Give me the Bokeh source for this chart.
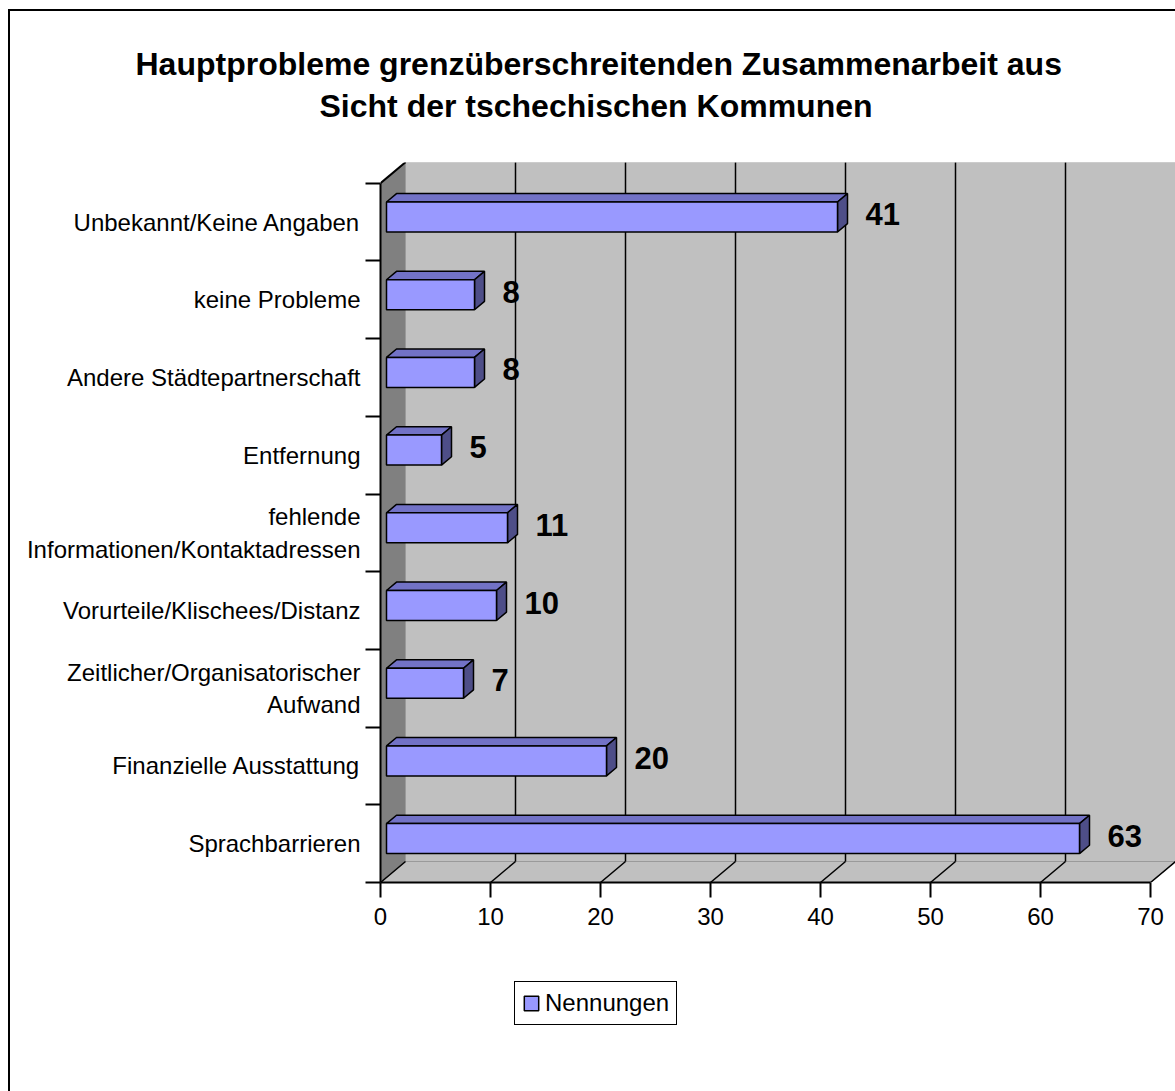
from bokeh.plotting import figure
from bokeh.layouts import column
from bokeh.models import Range1d, FixedTicker, Title, Legend, LegendItem
from bokeh.embed import file_html
from bokeh.resources import INLINE
from bokeh.core.properties import value

# ---------------- data ----------------
categories = [
    "Sprachbarrieren",
    "Finanzielle Ausstattung",
    "Zeitlicher/Organisatorischer\nAufwand",
    "Vorurteile/Klischees/Distanz",
    "fehlende\nInformationen/Kontaktadressen",
    "Entfernung",
    "Andere Städtepartnerschaft",
    "keine Probleme",
    "Unbekannt/Keine Angaben",
]
counts = [63, 20, 7, 10, 11, 5, 8, 8, 41]
x_ticks = [0, 10, 20, 30, 40, 50, 60, 70]
series_name = "Nennungen"
title_lines = [
    "Hauptprobleme grenzüberschreitenden Zusammenarbeit aus",
    "Sicht der tschechischen Kommunen",
]

# ---------------- geometry (pixels per data unit, 3D depth) ----------------
PX_X = 11.0          # pixels per count
PX_Y = 77.7          # pixels per category
DX = 25.0 / PX_X     # depth offset in x (data)
DY = 21.0 / PX_Y     # depth offset in y (data)
T1, T2 = 0.24, 0.64  # bar depth position (front / back)
HH = 15.0 / PX_Y     # half bar height
FONT = "Liberation Sans"
FRONT_COLOR = "#9999FF"
n = len(categories)
xmax = x_ticks[-1]

p = figure(width=1165, height=949, output_backend="svg", toolbar_location=None,
           x_range=Range1d(0, 795 / PX_X), y_range=Range1d(0, 720 / PX_Y),
           min_border_left=370, min_border_right=0, min_border_top=151,
           min_border_bottom=78)
p.title_location = None
p.outline_line_color = None
p.grid.visible = False
p.background_fill_color = "white"
p.border_fill_color = "white"

# ---------------- walls ----------------
p.quad(left=[DX], right=[xmax + DX], bottom=[DY], top=[n + DY],
       fill_color="#C0C0C0", line_color="#9A9A9A", line_width=1)
p.patch(x=[0, xmax, xmax + DX, DX], y=[0, 0, DY, DY],
        fill_color="#C0C0C0", line_color="#9A9A9A", line_width=1)
p.patch(x=[0, DX, DX, 0], y=[0, DY, n + DY, n],
        fill_color="#808080", line_color="#9A9A9A", line_width=1)
p.segment(x0=[0], y0=[n], x1=[DX], y1=[n + DY], line_color="black", line_width=2)

grid_x = [t + DX for t in x_ticks[1:-1]]
p.segment(x0=grid_x, y0=[DY] * len(grid_x), x1=grid_x, y1=[n + DY] * len(grid_x),
          line_color="black", line_width=1.5)
p.segment(x0=x_ticks, y0=[0] * len(x_ticks), x1=[t + DX for t in x_ticks],
          y1=[DY] * len(x_ticks), line_color="black", line_width=1.5)

# ---------------- bars ----------------
fx0 = [T1 * DX] * n
fx1 = [v + T1 * DX for v in counts]
cy = [i + 0.5 + T1 * DY for i in range(n)]
ftop = [c + HH for c in cy]
fbot = [c - HH for c in cy]
ddx = (T2 - T1) * DX
ddy = (T2 - T1) * DY

top_xs = [[a, b, b + ddx, a + ddx] for a, b in zip(fx0, fx1)]
top_ys = [[t, t, t + ddy, t + ddy] for t in ftop]
side_xs = [[b, b, b + ddx, b + ddx] for b in fx1]
side_ys = [[bo, t, t + ddy, bo + ddy] for bo, t in zip(fbot, ftop)]

p.patches(xs=top_xs, ys=top_ys, fill_color="#7272C6", line_color="black", line_width=1.5)
p.patches(xs=side_xs, ys=side_ys, fill_color="#4E4E88", line_color="black", line_width=1.5)
p.quad(left=fx0, right=fx1, bottom=fbot, top=ftop,
       fill_color=FRONT_COLOR, line_color="black", line_width=1.5)

p.text(x=[b + ddx for b in fx1], y=[c + 3 / PX_Y for c in cy],
       text=[str(v) for v in counts], x_offset=18,
       text_font=value(FONT), text_font_style="bold", text_font_size="31px",
       text_baseline="middle", text_align="left", text_color="black")

# ---------------- axes ----------------
xa = p.xaxis[0]
xa.ticker = FixedTicker(ticks=x_ticks)
xa.bounds = (x_ticks[0], x_ticks[-1])
xa.axis_line_color = "black"
xa.axis_line_width = 2
xa.major_tick_in = 0
xa.major_tick_out = 15
xa.major_tick_line_color = "black"
xa.major_tick_line_width = 2
xa.minor_tick_line_color = None
xa.major_label_text_font = FONT
xa.major_label_text_font_size = "24px"
xa.major_label_text_color = "black"
xa.major_label_standoff = 10

ya = p.yaxis[0]
ya.ticker = FixedTicker(ticks=[i + 0.5 for i in range(n)], minor_ticks=list(range(n + 1)))
ya.major_label_overrides = {i + 0.5: categories[i] for i in range(n)}
ya.bounds = (0, n)
ya.axis_line_color = "black"
ya.axis_line_width = 2
ya.major_tick_in = 0
ya.major_tick_out = 0
ya.minor_tick_in = 0
ya.minor_tick_out = 15
ya.minor_tick_line_color = "black"
ya.minor_tick_line_width = 2
ya.major_label_text_font = FONT
ya.major_label_text_font_size = "24px"
ya.major_label_text_color = "black"
ya.major_label_standoff = 5

# ---------------- titles (stacked outward from the frame) ----------------
p.add_layout(Title(text=" ", text_font_size="22px", standoff=10), "above")
p.add_layout(Title(text=title_lines[1], align="left", offset=-61, standoff=4,
                   text_font=FONT, text_font_size="32px", text_font_style="bold",
                   text_color="black"), "above")
p.add_layout(Title(text=title_lines[0], align="left", offset=-245, standoff=4,
                   text_font=FONT, text_font_size="32px", text_font_style="bold",
                   text_color="black"), "above")

# ---------------- legend strip below the chart ----------------
pl = figure(width=1165, height=131, output_backend="svg", toolbar_location=None,
            x_range=Range1d(0, 1), y_range=Range1d(0, 1),
            x_axis_location=None, y_axis_location=None, min_border=0)
pl.title_location = None
pl.outline_line_color = None
pl.grid.visible = False
pl.background_fill_color = "white"
pl.border_fill_color = "white"
nan = float("nan")
swatch = pl.quad(left=[nan], right=[nan], bottom=[nan], top=[nan],
                 fill_color=FRONT_COLOR, line_color="black", line_width=1.5)
legend = Legend(items=[LegendItem(label=series_name, renderers=[swatch])],
                location=(134, 66), border_line_color="black", border_line_width=1.5,
                border_line_alpha=1.0,
                label_text_font=FONT, label_text_font_size="24px",
                label_text_color="black",
                glyph_width=18, glyph_height=18, padding=7, margin=0,
                label_standoff=5, background_fill_color="white", background_fill_alpha=1)
pl.add_layout(legend, "center")

layout = column(p, pl, spacing=0,
                styles={"border-top": "2px solid black", "border-left": "2px solid black",
                        "margin-left": "8px", "margin-top": "9px"})

open("out.html", "w").write(file_html(layout, INLINE))
